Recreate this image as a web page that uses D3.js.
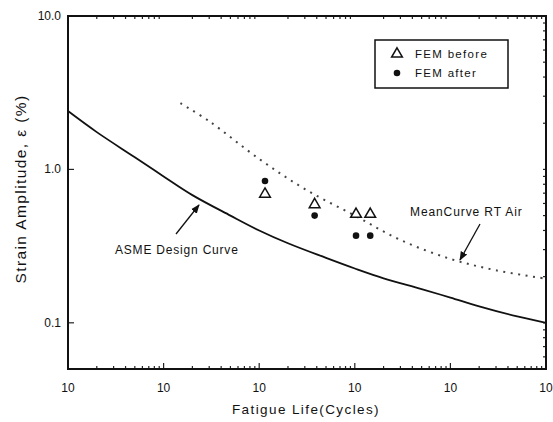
<!DOCTYPE html>
<html>
  <head>
    <title>Strain amplitude vs fatigue life</title>
    <style>
      body { margin: 0; background: #fff; }
      text { font-family: "Liberation Sans", Arial, sans-serif; fill: #111; }
    </style>
  </head>
  <body>
    <svg width="553" height="422"></svg>

    <script src="https://d3js.org/d3.v7.min.js"></script>
    <script>

      // ASME design curve (cycles, strain amplitude %)
      var asmeCycles = [10, 20, 50, 100, 200, 500, 1000, 2000, 5000, 1e4, 2e4, 5e4, 1e5, 2e5, 5e5, 1e6];
      var asmeStrain = [2.4, 1.75, 1.2, 0.9, 0.68, 0.5, 0.4, 0.33, 0.265, 0.226, 0.195, 0.166, 0.146, 0.128, 0.11, 0.1];

      // mean curve, room temperature air
      var meanCycles = [150, 300, 1000, 3000, 1e4, 3e4, 1e5, 3e5, 1e6];
      var meanStrain = [2.7, 2.06, 1.17, 0.745, 0.5, 0.347, 0.261, 0.22, 0.194];

      // FEM results
      var femCycles = [1150, 3800, 10300, 14500];
      var femBefore = [0.69, 0.59, 0.51, 0.51];
      var femAfter = [0.84, 0.50, 0.37, 0.37];

      var xTicks = [1e1, 1e2, 1e3, 1e4, 1e5, 1e6];
      var yTicks = [0.1, 1, 10];
      var yTickLabels = ["0.1", "1.0", "10.0"];

      var svg = d3.select("svg"),
        margin = { top: 16, right: 7, bottom: 53, left: 68 },
        width = +svg.attr("width"),
        height = +svg.attr("height");

      var x = d3.scaleLog()
        .domain([10, 1e6])
        .range([margin.left, width - margin.right]);

      var y = d3.scaleLog()
        .domain([0.05, 10])
        .range([height - margin.bottom, margin.top]);

      var x0 = margin.left, x1 = width - margin.right,
        y0 = height - margin.bottom, y1 = margin.top;

      // minor tick positions
      var xMinor = [], yMinor = [];
      for (var e = 1; e < 6; e++) {
        for (var k = 2; k < 10; k++) xMinor.push(k * Math.pow(10, e));
      }
      [0.01, 0.1, 1].forEach(function (b) {
        for (var k = 1; k < 10; k++) {
          var v = k * b;
          if (v > 0.05 && v < 10) yMinor.push(v);
        }
      });

      var ticks = svg.append("g").attr("stroke", "#222").attr("stroke-width", 1.2);

      // bottom and top minor ticks (inward)
      ticks.selectAll(".xb").data(xMinor).enter().append("line")
        .attr("x1", function (d) { return x(d); }).attr("x2", function (d) { return x(d); })
        .attr("y1", y0).attr("y2", y0 - 3);
      ticks.selectAll(".xt").data(xMinor).enter().append("line")
        .attr("x1", function (d) { return x(d); }).attr("x2", function (d) { return x(d); })
        .attr("y1", y1).attr("y2", y1 + 3);
      ticks.selectAll(".xm").data(xTicks).enter().append("line")
        .attr("x1", function (d) { return x(d); }).attr("x2", function (d) { return x(d); })
        .attr("y1", y0).attr("y2", y0 - 6);

      // right minor ticks, left major ticks
      ticks.selectAll(".yr").data(yMinor).enter().append("line")
        .attr("x1", x1).attr("x2", x1 - 3)
        .attr("y1", function (d) { return y(d); }).attr("y2", function (d) { return y(d); });
      ticks.selectAll(".yl").data(yTicks).enter().append("line")
        .attr("x1", x0).attr("x2", x0 + 6)
        .attr("y1", function (d) { return y(d); }).attr("y2", function (d) { return y(d); });

      // frame
      svg.append("rect")
        .attr("x", x0).attr("y", y1)
        .attr("width", x1 - x0).attr("height", y0 - y1)
        .attr("fill", "none").attr("stroke", "#111").attr("stroke-width", 2);

      // tick labels
      svg.append("g").selectAll("text").data(xTicks).enter().append("text")
        .attr("x", function (d) { return x(d); })
        .attr("y", y0 + 23)
        .attr("text-anchor", "middle")
        .attr("font-size", 12)
        .text("10");

      svg.append("g").selectAll("text").data(yTicks).enter().append("text")
        .attr("x", x0 - 7)
        .attr("y", function (d) { return y(d) + 4; })
        .attr("text-anchor", "end")
        .attr("font-size", 12)
        .text(function (d, i) { return yTickLabels[i]; });

      // axis titles
      svg.append("text")
        .attr("x", 306)
        .attr("y", 414)
        .attr("text-anchor", "middle")
        .attr("font-size", 13.5)
        .attr("letter-spacing", 1.4)
        .text("Fatigue Life(Cycles)");

      svg.append("text")
        .attr("transform", "translate(26,189) rotate(-90)")
        .attr("text-anchor", "middle")
        .attr("font-size", 15.5)
        .attr("letter-spacing", 1.4)
        .text("Strain Amplitude, \u03b5 (%)");

      var line = d3.line()
        .x(function (d) { return x(d[0]); })
        .y(function (d) { return y(d[1]); })
        .curve(d3.curveCatmullRom);

      var asme = asmeCycles.map(function (c, i) { return [c, asmeStrain[i]]; });
      var mean = meanCycles.map(function (c, i) { return [c, meanStrain[i]]; });

      svg.append("path")
        .datum(asme)
        .attr("d", line)
        .attr("fill", "none")
        .attr("stroke", "#111")
        .attr("stroke-width", 1.8);

      svg.append("path")
        .datum(mean)
        .attr("d", line)
        .attr("fill", "none")
        .attr("stroke", "#444")
        .attr("stroke-width", 2)
        .attr("stroke-dasharray", "2,5.5");

      var tri = d3.symbol().type(d3.symbolTriangle).size(50);
      var dot = d3.symbol().type(d3.symbolCircle).size(34);

      svg.append("g").selectAll("path").data(femCycles).enter().append("path")
        .attr("transform", function (d, i) { return "translate(" + x(d) + "," + y(femBefore[i]) + ")"; })
        .attr("d", tri)
        .attr("fill", "#fff")
        .attr("stroke", "#111")
        .attr("stroke-width", 1.5);

      svg.append("g").selectAll("path").data(femCycles).enter().append("path")
        .attr("transform", function (d, i) { return "translate(" + x(d) + "," + y(femAfter[i]) + ")"; })
        .attr("d", dot)
        .attr("fill", "#111");

      // annotations
      svg.append("defs").append("marker")
        .attr("id", "head")
        .attr("viewBox", "0 0 10 10")
        .attr("refX", 9).attr("refY", 5)
        .attr("markerWidth", 7).attr("markerHeight", 7)
        .attr("orient", "auto")
        .append("path").attr("d", "M0,1L10,5L0,9Z").attr("fill", "#111");

      svg.append("line")
        .attr("x1", 176).attr("y1", 234).attr("x2", 199).attr("y2", 205)
        .attr("stroke", "#111").attr("stroke-width", 1.3)
        .attr("marker-end", "url(#head)");
      svg.append("text")
        .attr("x", 115).attr("y", 254)
        .attr("font-size", 12)
        .attr("letter-spacing", 0.8)
        .text("ASME Design Curve");

      svg.append("line")
        .attr("x1", 480).attr("y1", 224).attr("x2", 460).attr("y2", 260)
        .attr("stroke", "#111").attr("stroke-width", 1.3)
        .attr("marker-end", "url(#head)");
      svg.append("text")
        .attr("x", 410).attr("y", 216)
        .attr("font-size", 12)
        .attr("letter-spacing", 0.9)
        .text("MeanCurve RT Air");

      // legend
      var lg = svg.append("g").attr("transform", "translate(375,40)");
      lg.append("rect")
        .attr("width", 133).attr("height", 48)
        .attr("fill", "#fff").attr("stroke", "#111").attr("stroke-width", 1.5);
      lg.append("path")
        .attr("transform", "translate(22,14)")
        .attr("d", tri)
        .attr("fill", "#fff").attr("stroke", "#111").attr("stroke-width", 1.5);
      lg.append("path")
        .attr("transform", "translate(22,33)")
        .attr("d", dot)
        .attr("fill", "#111");
      lg.append("text").attr("x", 40).attr("y", 18).attr("font-size", 11.5)
        .attr("letter-spacing", 1.3).text("FEM before");
      lg.append("text").attr("x", 40).attr("y", 37).attr("font-size", 11.5)
        .attr("letter-spacing", 1.3).text("FEM after");

    </script>
  </body>
</html>
